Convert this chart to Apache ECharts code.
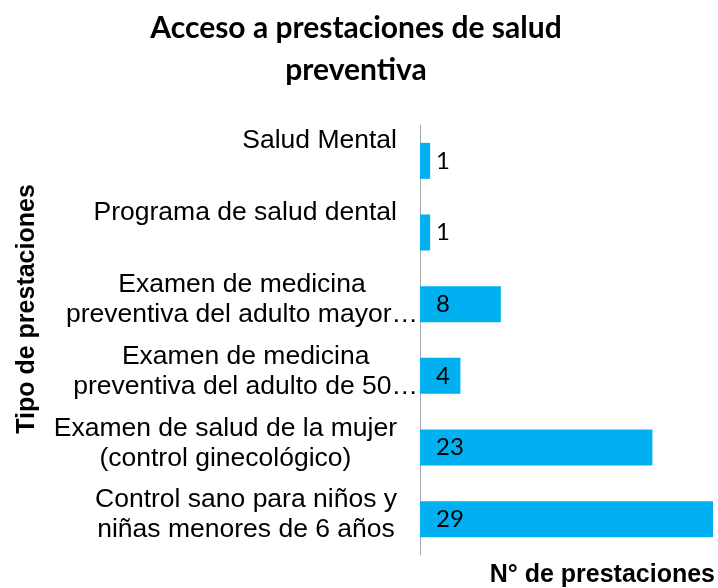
<!DOCTYPE html>
<html>
<head>
<meta charset="utf-8">
<script src="https://cdn.jsdelivr.net/npm/echarts@6/dist/echarts.min.js"></script>
<style>
html,body{margin:0;padding:0;background:#fff;}
#c{width:718px;height:588px;}
</style>
</head>
<body>
<div id="c"></div>
<script>
var titleText = "Acceso a prestaciones de salud\npreventiva";
var categories = [
  "Salud Mental",
  "Programa de salud dental",
  "Examen de medicina\npreventiva del adulto mayor…",
  "Examen de medicina\npreventiva del adulto de 50…",
  "Examen de salud de la mujer\n(control ginecológico)",
  "Control sano para niños y\nniñas menores de 6 años"
];
var values = [1, 1, 8, 4, 23, 29];
var xAxisName = "N° de prestaciones";
var yAxisName = "Tipo de prestaciones";

var axisData = categories.map(function (c) {
  var multi = c.indexOf("\n") >= 0;
  var trunc = c.indexOf("…") >= 0;
  return {
    value: c,
    textStyle: { padding: [0, trunc ? 0 : 21, multi ? 8 : 40, 0] }
  };
});

var chart = echarts.init(document.getElementById('c'));
chart.setOption({
  animation: false,
  backgroundColor: '#ffffff',
  title: {
    text: titleText,
    left: 351,
    top: 2,
    textAlign: 'center',
    textStyle: {
      fontFamily: 'Lato',
      fontWeight: 'bold',
      fontSize: 30,
      lineHeight: 42,
      color: '#000'
    }
  },
  grid: { left: 420, right: 5, top: 125, bottom: 33, containLabel: false },
  xAxis: {
    type: 'value',
    min: 0,
    max: 29,
    axisLine: { show: false },
    axisTick: { show: false },
    axisLabel: { show: false },
    splitLine: { show: false },
    name: xAxisName,
    nameLocation: 'end',
    nameGap: 2,
    nameTextStyle: {
      fontFamily: 'Liberation Sans',
      fontWeight: 'bold',
      fontSize: 25,
      color: '#000',
      align: 'right',
      verticalAlign: 'top',
      padding: [8, 0, 0, 0]
    }
  },
  yAxis: {
    type: 'category',
    inverse: true,
    data: axisData,
    axisLine: { show: true, lineStyle: { color: '#A6A6A6', width: 1 } },
    axisTick: { show: false },
    splitLine: { show: false },
    axisLabel: {
      margin: 2,
      formatter: function (v) {
        return v.split("\n").map(function (s) { return '{a|' + s + '}'; }).join("\n");
      },
      rich: {
        a: {
          fontFamily: 'Liberation Sans',
          fontSize: 26.5,
          lineHeight: 30,
          color: '#000',
          align: 'center'
        }
      }
    },
    name: yAxisName,
    nameLocation: 'middle',
    nameRotate: 90,
    nameGap: 380,
    nameTextStyle: {
      fontFamily: 'Liberation Sans',
      fontWeight: 'bold',
      fontSize: 25,
      color: '#000',
      padding: [0, 0, 0, 62]
    }
  },
  series: [{
    type: 'bar',
    data: values,
    barWidth: 36,
    itemStyle: { color: '#00B0F0' },
    label: {
      show: true,
      position: 'insideLeft',
      distance: 16,
      fontFamily: 'Lato',
      fontSize: 24,
      color: '#000'
    }
  }]
});
</script>
</body>
</html>
